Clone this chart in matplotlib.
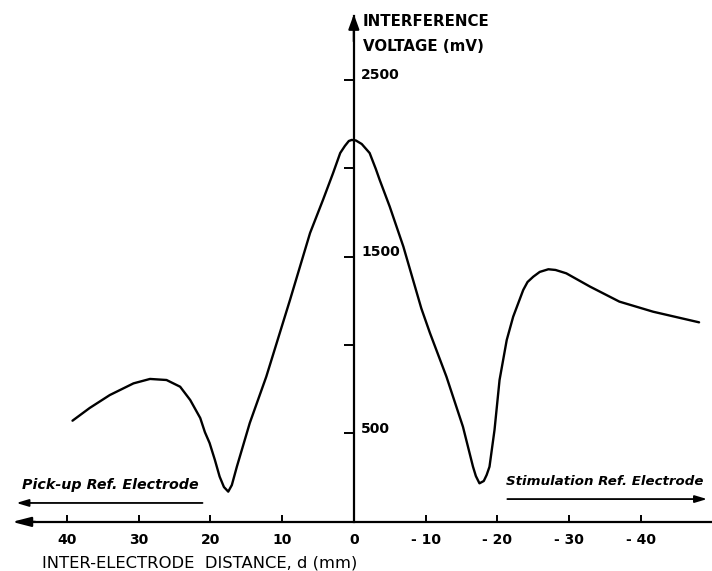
import numpy as np
import matplotlib
matplotlib.use("Agg")
import matplotlib.pyplot as plt

# inter-electrode distance d (mm), positive = pick-up side (left)
distance = [39.2, 36.8, 34.0, 30.7, 28.4, 26.1, 24.2, 22.8, 21.4, 20.75,
            20.1, 19.36, 18.7, 18.1, 17.5, 17.0, 16.3, 14.5, 12.2, 8.9,
            6.1, 4.3, 2.9, 1.9, 1.25, 0.7, 0.3, -0.28, -1.1, -2.2,
            -3.06, -3.6, -5.0, -6.9, -9.4, -10.6, -12.9, -15.2, -16.6, -17.0,
            -17.5, -18.1, -18.5, -18.9, -19.6, -20.3, -21.3, -22.2, -23.6, -24.2,
            -25.0, -25.9, -27.1, -28.1, -29.6, -32.9, -37.0, -41.7, -48.1]
# interference voltage (mV)
voltage = [572, 644, 717, 783, 808, 802, 764, 689, 587, 507,
           446, 350, 256, 197, 171, 208, 312, 559, 821, 1254,
           1633, 1820, 1971, 2085, 2125, 2153, 2159, 2156, 2136, 2085,
           1995, 1933, 1782, 1556, 1207, 1068, 821, 538, 312, 259,
           218, 231, 265, 312, 520, 802, 1028, 1160, 1311, 1356,
           1386, 1413, 1428, 1424, 1405, 1330, 1245, 1188, 1128]

x_ticks = [40, 30, 20, 10, 0, -10, -20, -30, -40]
x_tick_labels = ["40", "30", "20", "10", "0", "- 10", "- 20", "- 30", "- 40"]
y_ticks = [500, 1000, 1500, 2000, 2500]
y_labelled = [500, 1500, 2500]

fig = plt.figure(figsize=(7.12, 5.71), dpi=100)
ax = fig.add_axes([0, 0, 1, 1])
ax.set_xlim(49.3, -49.9)
ax.set_ylim(-277.6, 2950)

ax.plot(distance, voltage, color="black", lw=1.7,
        solid_joinstyle="round", solid_capstyle="round")

# axes crossing at the origin
for s in ["top", "right"]:
    ax.spines[s].set_visible(False)
ax.spines["left"].set_position(("data", 0))
ax.spines["bottom"].set_position(("data", 0))
ax.spines["left"].set_bounds(0, 2860)
ax.spines["bottom"].set_bounds(-49.9, 46.5)
ax.spines["left"].set_linewidth(1.6)
ax.spines["bottom"].set_linewidth(1.6)

ax.set_xticks(x_ticks)
ax.set_xticklabels(x_tick_labels, fontsize=10, fontweight="bold")
ax.tick_params(axis="x", direction="in", length=5, width=1.4, pad=8)
ax.set_yticks(y_ticks)
ax.tick_params(axis="y", direction="out", length=7, width=1.4, labelleft=False)

for v in y_labelled:
    ax.text(-1.0, v + 25, str(v), fontsize=10, fontweight="bold",
            ha="left", va="center")

# arrow heads of the axes
ax.annotate("", xy=(48.0, 0), xytext=(44, 0),
            arrowprops=dict(arrowstyle="-|>,head_length=0.7,head_width=0.18",
                            color="black", lw=1.6, mutation_scale=16))
ax.annotate("", xy=(0, 2885), xytext=(0, 2700),
            arrowprops=dict(arrowstyle="-|>,head_length=0.55,head_width=0.2",
                            color="black", lw=1.6, mutation_scale=16))

ax.text(-1.25, 2828, "INTERFERENCE", fontsize=10.8, fontweight="bold",
        ha="left", va="center")
ax.text(-1.25, 2686, "VOLTAGE (mV)", fontsize=10.8, fontweight="bold",
        ha="left", va="center")

ax.text(43.5, -232, "INTER-ELECTRODE  DISTANCE, d (mm)", fontsize=11.8,
        ha="left", va="center")

# electrode side annotations
ax.text(46.2, 209, "Pick-up Ref. Electrode", fontsize=10.3, fontweight="bold",
        fontstyle="italic", ha="left", va="center")
ax.annotate("", xy=(47.4, 107), xytext=(20.7, 107),
            arrowprops=dict(arrowstyle="-|>,head_length=0.6,head_width=0.18",
                            color="black", lw=1.3, mutation_scale=12))
ax.text(-21.2, 231, "Stimulation Ref. Electrode", fontsize=9.6, fontweight="bold",
        fontstyle="italic", ha="left", va="center")
ax.annotate("", xy=(-49.6, 129), xytext=(-21.0, 129),
            arrowprops=dict(arrowstyle="-|>,head_length=0.6,head_width=0.18",
                            color="black", lw=1.3, mutation_scale=12))

fig.savefig("out.png", dpi=100)
